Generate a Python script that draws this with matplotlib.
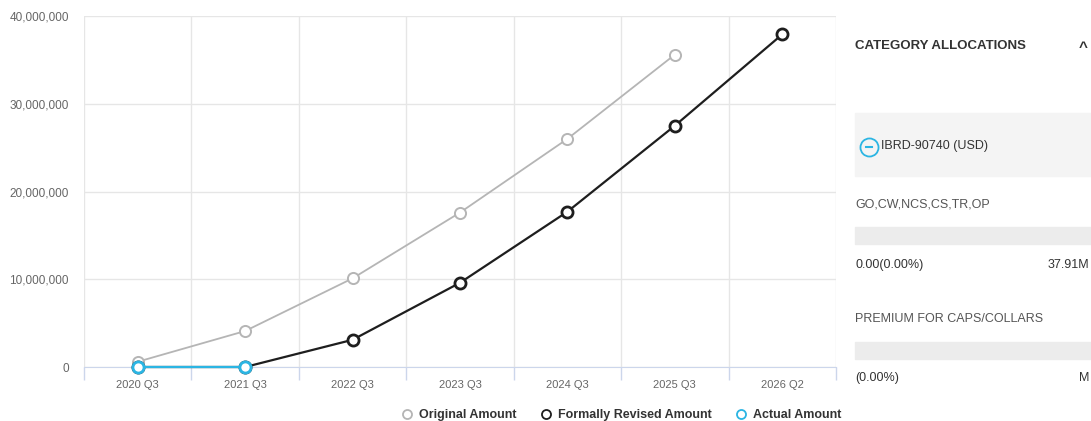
import matplotlib.pyplot as plt
from matplotlib.lines import Line2D
from matplotlib.patches import Rectangle
from matplotlib.ticker import FuncFormatter, FixedLocator

plt.rcParams["font.family"] = ["Liberation Sans", "DejaVu Sans"]

quarters = ["2020 Q3", "2021 Q3", "2022 Q3", "2023 Q3", "2024 Q3", "2025 Q3", "2026 Q2"]
original = [0.6e6, 4.1e6, 10.1e6, 17.6e6, 26.0e6, 35.6e6, None]
revised = [0, 0, 3.1e6, 9.6e6, 17.7e6, 27.5e6, 37.91e6]
actual = [0, 0, None, None, None, None, None]

series_names = ["Original Amount", "Formally Revised Amount", "Actual Amount"]
series_colors = ["#b5b5b5", "#1e1e1e", "#2bb5e3"]

panel_title = "CATEGORY ALLOCATIONS"
loan_label = "IBRD-90740 (USD)"
cat_names = ["GO,CW,NCS,CS,TR,OP", "PREMIUM FOR CAPS/COLLARS"]
cat_left = ["0.00(0.00%)", "(0.00%)"]
cat_right = ["37.91M", "M"]

W, H = 1091, 421
fig = plt.figure(figsize=(W / 100, H / 100), dpi=100)
ax = fig.add_axes([84 / W, 1 - 367 / H, (836 - 84) / W, (367 - 16) / H])

xs = list(range(len(quarters)))


def pts(vals):
    p = [(x, v) for x, v in zip(xs, vals) if v is not None]
    return [a for a, _ in p], [b for _, b in p]


data = [original, revised, actual]
widths = [1.3, 1.6, 1.6]
medges = [1.4, 2.0, 2.0]
for vals, c, lw, mew, z in zip(data, series_colors, widths, medges, [2, 3, 4]):
    px, py = pts(vals)
    ax.plot(px, py, color=c, lw=lw, marker="o", ms=8, mfc="white", mec=c, mew=mew,
            zorder=z, clip_on=False)

ax.set_xlim(-0.5, len(quarters) - 0.5)
ax.set_ylim(0, 40e6)
ax.set_yticks([0, 10e6, 20e6, 30e6, 40e6])
ax.yaxis.set_major_formatter(FuncFormatter(lambda v, p: f"{int(v):,}"))
ax.set_xticks(xs)
ax.set_xticklabels(quarters)
ax.xaxis.set_minor_locator(FixedLocator([i - 0.5 for i in range(len(quarters) + 1)]))

ax.grid(True, which="major", axis="y", color="#e6e6e6", lw=1)
ax.grid(True, which="minor", axis="x", color="#e6e6e6", lw=1)
ax.set_axisbelow(True)
ax.tick_params(axis="x", which="major", length=0, pad=9, labelsize=8, labelcolor="#666666")
ax.tick_params(axis="x", which="minor", length=9, color="#ccd6eb", width=1)
ax.tick_params(axis="y", length=0, pad=11, labelsize=8.5, labelcolor="#666666")
for s in ["top", "right", "left"]:
    ax.spines[s].set_visible(False)
ax.spines["bottom"].set_color("#ccd6eb")

handles = [Line2D([], [], ls="none", marker="o", ms=6.5, mfc="white", mec=c, mew=1.3)
           for c in series_colors]
fig.legend(handles, series_names, loc="center", bbox_to_anchor=(618 / W, 1 - 415 / H),
           ncol=3, frameon=False, handletextpad=0.0, columnspacing=1.3,
           labelcolor="#333333", prop={"weight": "bold", "size": 9})

# side panel
fig.text(855 / W, 1 - 46 / H, panel_title, fontsize=9.5, weight="bold",
         color="#333333", va="center")
fig.text(1083 / W, 1 - 48 / H, "^", fontsize=11, weight="bold",
         color="#333333", va="center", ha="center")
fig.patches.append(Rectangle((855 / W, 1 - 176 / H), (W - 855) / W, 63 / H,
                             transform=fig.transFigure, color="#f4f4f4", zorder=0))
fig.add_artist(Line2D([869 / W], [1 - 147 / H], ls="none", marker="o", ms=13,
                      mfc="none", mec="#2bb5e3", mew=1.3, transform=fig.transFigure))
fig.add_artist(Line2D([866 / W, 872 / W], [1 - 147 / H, 1 - 147 / H], color="#2bb5e3",
                      lw=1.5, transform=fig.transFigure))
fig.text(881 / W, 1 - 146 / H, loan_label, fontsize=9, color="#333333",
         va="center")

rows = [(204, 227, 265), (319, 342, 378)]
for (ty, by, ly), name, lt, rt in zip(rows, cat_names, cat_left, cat_right):
    fig.text(855 / W, 1 - ty / H, name, fontsize=9, color="#555555",
             va="center")
    fig.patches.append(Rectangle((855 / W, 1 - (by + 17) / H), (W - 855) / W, 17 / H,
                                 transform=fig.transFigure, color="#ececec", zorder=0))
    fig.text(855 / W, 1 - ly / H, lt, fontsize=9, color="#333333",
             va="center")
    fig.text(1089 / W, 1 - ly / H, rt, fontsize=9, color="#333333",
             va="center", ha="right")

fig.savefig("out.png", dpi=100)
